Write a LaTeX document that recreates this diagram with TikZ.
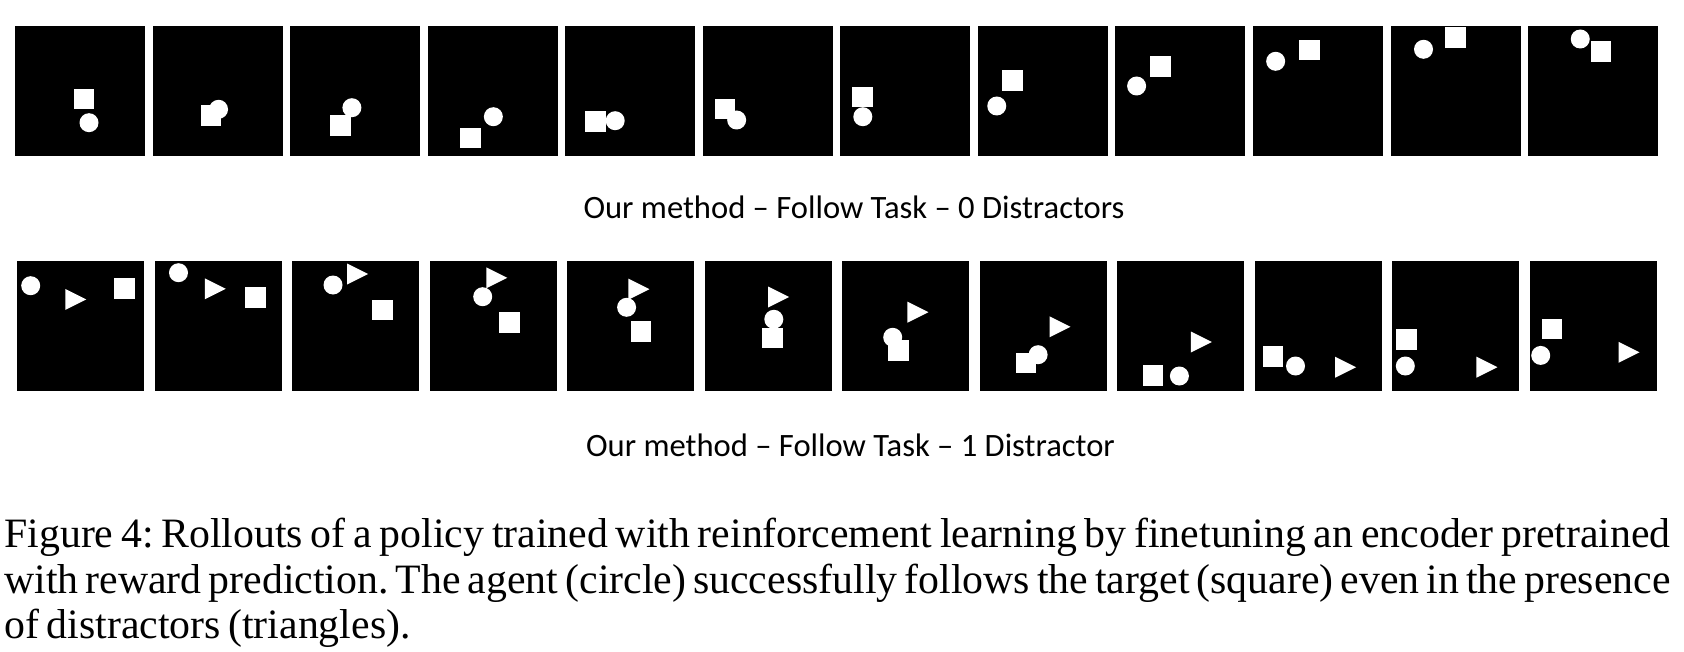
\documentclass[tikz,border=0pt]{standalone}
\usepackage{fontspec}
\setmainfont[WordSpace={0.72,1,1.3}]{Liberation Serif}
\newfontfamily\capfont{Carlito}
\usetikzlibrary{positioning}

\tikzset{
  frame/.style={fill=black},
  item/.style={fill=white},
  subcap/.style={font=\capfont\fontsize{16.3}{18}\selectfont, inner sep=0pt, anchor=base},
  figcap/.style={font=\fontsize{20.9}{22.65}\selectfont\frenchspacing, inner sep=0pt, anchor=base west,
    text width=833pt, align=justify}
}

\begin{document}
\begin{tikzpicture}[x=0.5pt,y=-0.5pt]
      \def\Wtop{130}
      \def\Wbot{127}
      \def\H{130}
      \def\a{10.3}   % half side of the square
      \def\r{9.5}    % radius of the agent
      \def\t{21}     % size of the triangle

      \useasboundingbox (0,0) rectangle (1684,652);

      % TOP ROW (square, circle)
      \foreach \sx/\sy/\cx/\cy [count=\i from 0] in
        {68.8/72.9/74/96.7, 58.4/89.8/66/83.3, 50.2/99.7/61.8/81.7, 42.7/111.9/65.7/90.7,
         30.2/95.4/50/94.7, 22.2/83.2/33.9/94, 22/71.2/22.5/90.7, 34.6/54.7/18.9/80,
         45/40.5/21.2/60, 56.7/24.2/22.7/35.3, 65/11.8/33/23.3, 73/25.5/52.2/13}
      {
        \begin{scope}[shift={(15+137.55*\i,26)}]
          \fill[frame] (0,0) rectangle (\Wtop,\H);
          \fill[item] (\sx-\a,\sy-\a) rectangle (\sx+\a,\sy+\a);
          \fill[item] (\cx,\cy) circle (\r);
        \end{scope}
      }

      % BOTTOM ROW (square, circle, triangle)
      \foreach \sx/\sy/\cx/\cy/\tx/\ty [count=\i from 0] in
        {107.5/27.7/13.7/24.7/48.3/38.4, 100.8/36.2/24/11.7/50.3/27.8,
         90.5/49/41/24/55/13, 80/61.7/53.2/35.7/56.8/16.8,
         73.8/70.2/59.6/46.3/61.4/28.2, 67.9/76.8/69.3/58.3/63.6/36,
         56.6/89.2/50.7/76.3/65.4/51.2, 46.3/101.8/58.6/93.7/70/65.8,
         35.9/114.7/62.4/115/73.9/81, 18.5/95.5/41/105/80.6/106.2,
         14.5/78.7/13.3/105/84.4/106.2, 22.6/68/11.2/94.4/89/91.3}
      {
        \begin{scope}[shift={(17+137.5*\i,261)}]
          \fill[frame] (0,0) rectangle (\Wbot,\H);
          \fill[item] (\sx-\a,\sy-\a) rectangle (\sx+\a,\sy+\a);
          \fill[item] (\cx,\cy) circle (\r);
          \fill[item] (\tx,\ty-\t/2) -- (\tx+\t,\ty) -- (\tx,\ty+\t/2) -- cycle;
        \end{scope}
      }

      % CAPTIONS
      \node[subcap] (capzero) at (854,218.3) {Our method – Follow Task – 0 Distractors};
      \node[subcap] (capone) at (850.5,456) {Our method – Follow Task – 1 Distractor};
      \node[figcap] (figcap) at (4,547.7) {Figure 4: Rollouts of a policy trained with reinforcement learning by finetuning an encoder pretrained\linebreak
        with reward prediction. The agent (circle) successfully follows the target (square) even in the presence\linebreak
        of distractors (triangles).};
\end{tikzpicture}
\end{document}
